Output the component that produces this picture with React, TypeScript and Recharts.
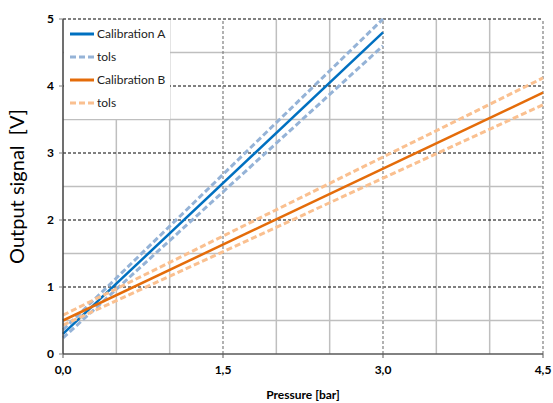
import React from "react";
import { LineChart, Line, XAxis, YAxis, ReferenceLine } from "recharts";

const pressureA = [0, 3.0];
const calibrationA = [0.3, 4.8];
const tolsAUpper = [0.36, 5.0];
const tolsALower = [0.24, 4.6];

const pressureB = [0, 4.5];
const calibrationB = [0.5, 3.9];
const tolsBUpper = [0.58, 4.12];
const tolsBLower = [0.43, 3.72];

const xTicks = [0, 1.5, 3.0, 4.5];
const yTicks = [0, 1, 2, 3, 4, 5];
const xMinorGrid = [0.5, 1.0, 2.0, 2.5, 3.5, 4.0];
const xMajorGrid = [1.5, 3.0, 4.5];
const yMinorGrid = [0.5, 1.5, 2.5, 3.5, 4.5];
const yMajorGrid = [1, 2, 3, 4, 5];

const legendItems = [
  { label: "Calibration A", color: "#0070C0", dash: undefined },
  { label: "tols", color: "#95B3D7", dash: "6 3" },
  { label: "Calibration B", color: "#E46C0A", dash: undefined },
  { label: "tols", color: "#FAC090", dash: "6 3" },
];

const toPoints = (xs: number[], ys: number[]) => xs.map((x, i) => ({ x, y: ys[i] }));

const FONT = "Lato, 'Open Sans', sans-serif";

const LegendBox = () => (
  <div
    style={{
      position: "absolute",
      left: 64,
      top: 20,
      width: 106,
      height: 97,
      background: "#fff",
      paddingTop: 2,
      fontFamily: FONT,
    }}
  >
    {legendItems.map((item, i) => (
      <div key={i} style={{ display: "flex", alignItems: "center", height: 23 }}>
        <svg width={33} height={6}>
          <line x1={6} x2={30} y1={3} y2={3} stroke={item.color} strokeWidth={3} strokeDasharray={item.dash} />
        </svg>
        <span style={{ fontSize: 12, color: "#222" }}>{item.label}</span>
      </div>
    ))}
  </div>
);

export default function App() {
  return (
    <div style={{ position: "absolute", left: 0, top: 0, width: 553, height: 403 }}>
      <LineChart width={553} height={403} margin={{ top: 19, right: 10, left: 0, bottom: 0 }}>
        {yMinorGrid.map((v) => (
          <ReferenceLine key={"ym" + v} y={v} stroke="#BFBFBF" strokeWidth={1.5} />
        ))}
        {xMinorGrid.map((v) => (
          <ReferenceLine key={"xm" + v} x={v} stroke="#BFBFBF" strokeWidth={1.5} />
        ))}
        {yMajorGrid.map((v) => (
          <ReferenceLine key={"yM" + v} y={v} stroke="#000" strokeWidth={1} strokeDasharray="3 2" />
        ))}
        {xMajorGrid.map((v) => (
          <ReferenceLine key={"xM" + v} x={v} stroke="#7F7F7F" strokeWidth={1.2} strokeDasharray="3 2" />
        ))}
        <XAxis
          type="number"
          dataKey="x"
          domain={[0, 4.5]}
          ticks={xTicks}
          allowDuplicatedCategory={false}
          tickFormatter={(v: number) => v.toFixed(1).replace(".", ",")}
          tick={{ fontSize: 12, fontWeight: 700, fill: "#000", fontFamily: FONT, dy: 5 }}
          axisLine={{ stroke: "#595959", strokeWidth: 1.5 }}
          tickLine={{ stroke: "#595959" }}
          tickSize={4}
          height={49}
          label={{
            value: "Pressure [bar]",
            position: "insideBottom",
            offset: 4,
            style: { fontSize: 12, fontWeight: 700, fill: "#000", fontFamily: FONT },
          }}
        />
        <YAxis
          type="number"
          domain={[0, 5]}
          ticks={yTicks}
          width={63}
          tick={{ fontSize: 12, fontWeight: 700, fill: "#000", fontFamily: FONT, dx: -3 }}
          axisLine={{ stroke: "#404040", strokeWidth: 1.5 }}
          tickLine={{ stroke: "#7F7F7F" }}
          tickSize={4}
          label={{
            value: "Output signal\u00A0\u00A0[V]",
            angle: -90,
            position: "insideLeft",
            offset: 17,
            style: { fontSize: 20, fill: "#000", fontFamily: FONT, textAnchor: "middle" },
          }}
        />
        <Line
          data={toPoints(pressureA, calibrationA)}
          dataKey="y"
          name="Calibration A"
          stroke="#0070C0"
          strokeWidth={2.5}
          dot={false}
          isAnimationActive={false}
        />
        <Line
          data={toPoints(pressureA, tolsAUpper)}
          dataKey="y"
          name="tols A upper"
          stroke="#95B3D7"
          strokeWidth={3}
          strokeDasharray="6 3"
          dot={false}
          isAnimationActive={false}
        />
        <Line
          data={toPoints(pressureA, tolsALower)}
          dataKey="y"
          name="tols A lower"
          stroke="#95B3D7"
          strokeWidth={3}
          strokeDasharray="6 3"
          dot={false}
          isAnimationActive={false}
        />
        <Line
          data={toPoints(pressureB, calibrationB)}
          dataKey="y"
          name="Calibration B"
          stroke="#E46C0A"
          strokeWidth={2.5}
          dot={false}
          isAnimationActive={false}
        />
        <Line
          data={toPoints(pressureB, tolsBUpper)}
          dataKey="y"
          name="tols B upper"
          stroke="#FAC090"
          strokeWidth={3}
          strokeDasharray="6 3"
          dot={false}
          isAnimationActive={false}
        />
        <Line
          data={toPoints(pressureB, tolsBLower)}
          dataKey="y"
          name="tols B lower"
          stroke="#FAC090"
          strokeWidth={3}
          strokeDasharray="6 3"
          dot={false}
          isAnimationActive={false}
        />
      </LineChart>
      <LegendBox />
    </div>
  );
}
